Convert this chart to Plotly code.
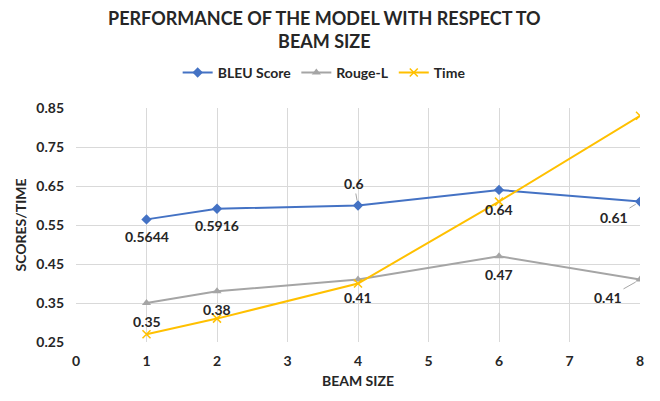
import plotly.graph_objects as go

beam = [1, 2, 4, 6, 8]
bleu = [0.5644, 0.5916, 0.6, 0.64, 0.61]
rouge = [0.35, 0.38, 0.41, 0.47, 0.41]
time_vals = [0.27, 0.31, 0.40, 0.61, 0.83]
bleu_labels = ["0.5644", "0.5916", "0.6", "0.64", "0.61"]
rouge_labels = ["0.35", "0.38", "0.41", "0.47", "0.41"]

FONT = "Lato"
TXT = "#262626"

fig = go.Figure()
fig.add_trace(go.Scatter(x=beam, y=bleu, name="<b>BLEU Score</b>", mode="lines+markers",
                         line=dict(color="#4472C4", width=2),
                         marker=dict(symbol="diamond", size=8, color="#4472C4")))
fig.add_trace(go.Scatter(x=beam, y=rouge, name="<b>Rouge-L</b>", mode="lines+markers",
                         line=dict(color="#A5A5A5", width=2),
                         marker=dict(symbol="triangle-up", size=8, color="#A5A5A5")))
fig.add_trace(go.Scatter(x=beam, y=time_vals, name="<b>Time</b>", mode="lines+markers",
                         line=dict(color="#FFC000", width=2),
                         marker=dict(symbol="x-thin", size=8, color="#FFC000",
                                     line=dict(color="#FFC000", width=1.5))))

# label offsets (pixels): (xshift, yshift, leader)
bleu_off = [(0, -17, False), (0, -17, False), (-4, 22, True), (0, -20, False), (-26, -16, True)]
rouge_off = [(0, -18, False), (0, -18, False), (0, -18, False), (0, -18, False), (-32, -18, True)]

anns = []
for xs, ys, labs, offs in [(beam, bleu, bleu_labels, bleu_off), (beam, rouge, rouge_labels, rouge_off)]:
    for x, y, t, (dx, dy, leader) in zip(xs, ys, labs, offs):
        if leader:
            anns.append(dict(x=x, y=y, text="<b>%s</b>" % t, showarrow=True, arrowhead=0,
                             arrowwidth=1, arrowcolor="#A6A6A6", ax=dx, ay=-dy, standoff=5,
                             font=dict(family=FONT, size=14, color=TXT)))
        else:
            anns.append(dict(x=x, y=y, text="<b>%s</b>" % t, showarrow=False,
                             xshift=dx, yshift=dy,
                             font=dict(family=FONT, size=14, color=TXT)))

anns.append(dict(text="<b>PERFORMANCE OF THE MODEL WITH RESPECT TO<br>BEAM SIZE</b>",
                 xref="paper", yref="paper", x=0.44, y=1.0, xanchor="center", yanchor="bottom",
                 yshift=54, showarrow=False,
                 font=dict(family=FONT, size=18, color=TXT)))

fig.update_layout(
    width=652, height=393,
    margin=dict(l=68, r=20, t=100, b=59),
    paper_bgcolor="white", plot_bgcolor="white",
    legend=dict(orientation="h", x=0.44, xanchor="center", y=1.15, yanchor="middle",
                font=dict(family=FONT, size=14, color=TXT), itemwidth=30,
                traceorder="normal"),
    font=dict(family=FONT, color=TXT),
    annotations=anns,
)
fig.update_xaxes(range=[0, 8], dtick=1, tick0=0, showgrid=True, gridcolor="#D9D9D9",
                 zeroline=False, showline=False, ticks="", ticklabelstandoff=9,
                 tickfont=dict(family=FONT, size=14, color=TXT),
                 title=dict(text="<b>BEAM SIZE</b>", font=dict(family=FONT, size=14, color=TXT), standoff=8))
fig.update_yaxes(range=[0.25, 0.85], dtick=0.1, tick0=0.25, showgrid=True, gridcolor="#D9D9D9",
                 zeroline=False, showline=False, ticks="", tickformat=".2f", ticklabelstandoff=11,
                 tickfont=dict(family=FONT, size=14, color=TXT),
                 title=dict(text="<b>SCORES/TIME</b>", font=dict(family=FONT, size=14, color=TXT), standoff=6))
fig.update_xaxes(tickprefix="<b>", ticksuffix="</b>")
fig.update_yaxes(tickprefix="<b>", ticksuffix="</b>")

fig.write_html("out.html")
